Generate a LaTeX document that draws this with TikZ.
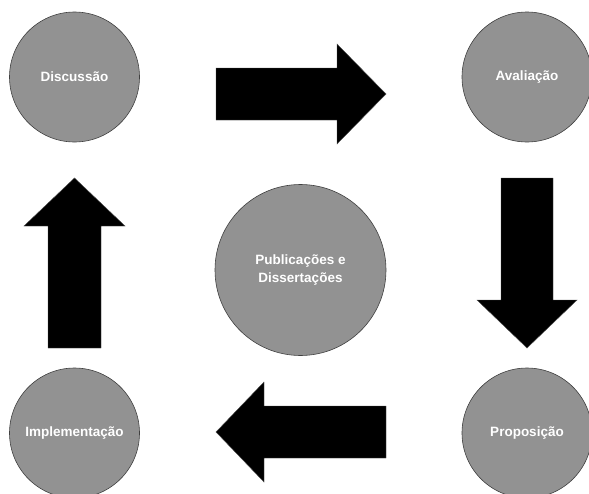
\documentclass[tikz,border=0pt]{standalone}
\usepackage{fontspec}
\setmainfont{Liberation Sans}
\begin{document}
\begin{tikzpicture}[x=1pt,y=-1pt,
  stage/.style={circle,draw=black!75,line width=0.6pt,fill=circgray,text=white,
    font=\fontsize{13.5}{18}\selectfont\bfseries,align=center,inner sep=0pt},
  blockarrow/.style={fill=black,draw=black!70,line width=0.4pt}]
\definecolor{circgray}{RGB}{146,146,146}
\useasboundingbox (0,0) rectangle (589,493);
\node[stage,minimum size=130] (disc) at (74.5,77) {Discussão};
\node[stage,minimum size=130] (aval) at (527,77) {Avaliação};
\node[stage,minimum size=130] (impl) at (74.5,433) {Implementação};
\node[stage,minimum size=130] (prop) at (527,433) {Proposição};
\node[stage,minimum size=171] (pub) at (300.5,270) {Publicações e\\Dissertações};
% right arrow
\draw[blockarrow] (216,68) -- (337,68) -- (337,44) -- (386,94) -- (337,144) -- (337,120) -- (216,120) -- cycle;
% down arrow
\draw[blockarrow] (501,178) -- (553,178) -- (553,300) -- (577,300) -- (527,348) -- (477,300) -- (501,300) -- cycle;
% left arrow
\draw[blockarrow] (386,406) -- (264,406) -- (264,382) -- (216,432) -- (264,482) -- (264,458) -- (386,458) -- cycle;
% up arrow
\draw[blockarrow] (48,348) -- (48,226) -- (24,226) -- (74.5,178) -- (125,226) -- (101,226) -- (101,348) -- cycle;
\end{tikzpicture}
\end{document}
